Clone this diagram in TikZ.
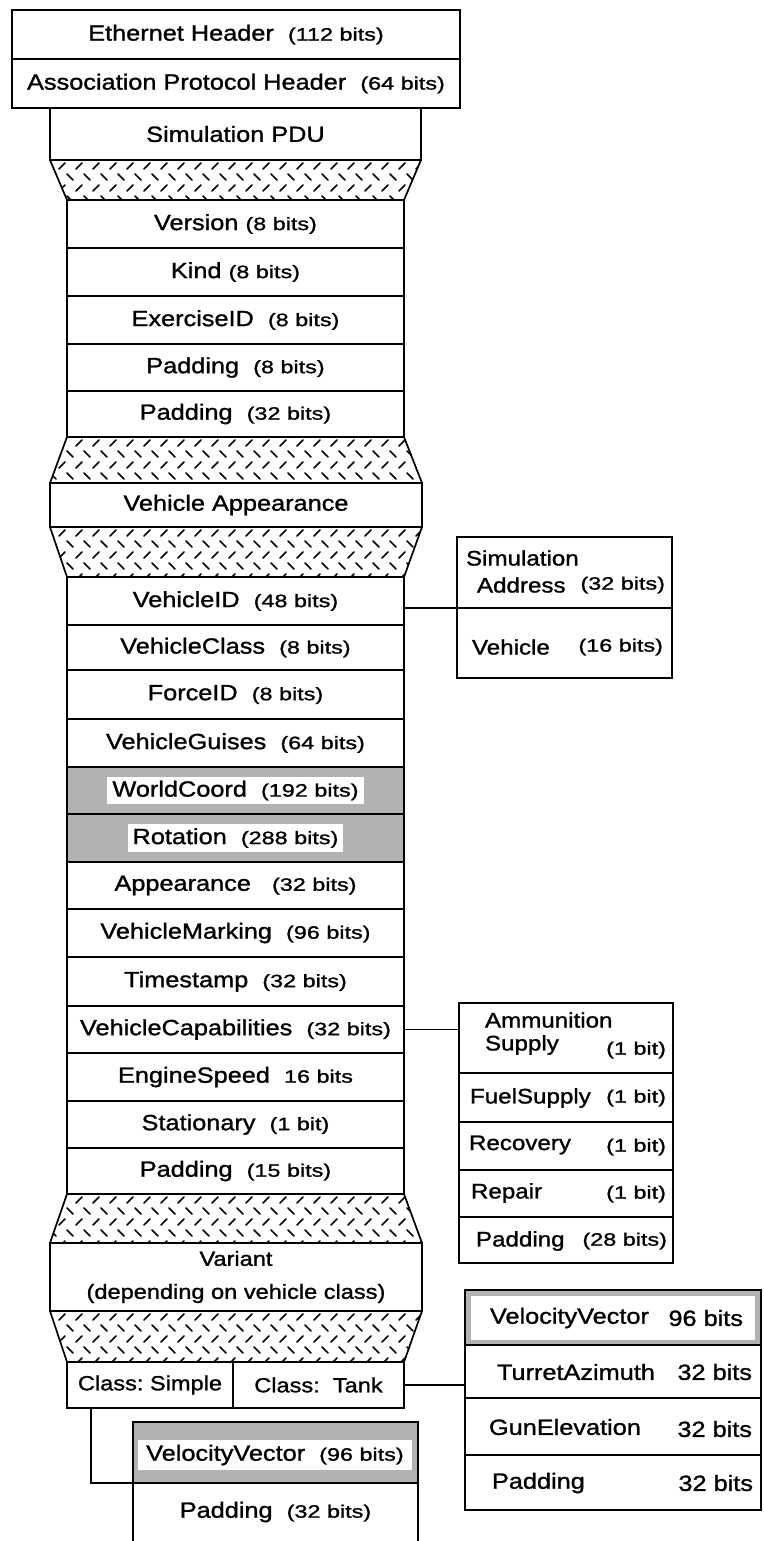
\documentclass[tikz,border=0pt]{standalone}
\usepackage{fontspec}
\setmainfont{Liberation Sans}
\newfontfamily\fA{Liberation Sans}[FakeStretch=1.15,FakeBold=1.2]
\newfontfamily\fB{Liberation Sans}[FakeStretch=1.3,FakeBold=1.2]
\newcommand\bitsz[1]{{\fB\fontsize{18}{20}\selectfont #1}}
\newcommand\cbox[6][]{\node[bx,#1,minimum width={(#4-#2)*1pt},minimum height={(#5-#3)*1pt}] (#6) at ({(#2+#4)/2},{(#3+#5)/2})}
\newcommand\hatchtrap[6]{%
  \begin{scope}
    \clip (#3,#1) -- (#4,#1) -- (#6,#2) -- (#5,#2) -- cycle;
    \foreach \r in {0,2,4}{\foreach \c in {0,...,23}{\draw[hatch] ({42+17*\c},{#1+9+11*\r}) -- ++(6,-6);}}
    \foreach \r in {1,3,5}{\foreach \c in {0,...,23}{\draw[hatch] ({50+17*\c},{#1+3+11*\r}) -- ++(6,6);}}
  \end{scope}
  \draw (#3,#1) -- (#5,#2) (#4,#1) -- (#6,#2);
}
\tikzset{
  bx/.style={draw, rectangle, inner sep=0pt, outer sep=0pt, align=center, font=\fA\fontsize{22}{24}\selectfont},
  lbl/.style={inner sep=0pt, outer sep=0pt, font=\fA\fontsize{21}{22}\selectfont},
  tlbl/.style={inner sep=0pt, outer sep=0pt, font=\fA\fontsize{22}{24}\selectfont},
  shaded/.style={fill=black!30},
  wt/.style={fill=white, draw=none, inner xsep=5pt, inner ysep=4pt, font=\fA\fontsize{22}{24}\selectfont},
  hatch/.style={line width=1.7pt, line cap=round},
}
\begin{document}
\begin{tikzpicture}[x=1pt, y=-1pt, line width=1.7pt]
\useasboundingbox[fill=white] (0,0) rectangle (763,1541);

% top headers
\cbox{12}{10}{460}{59}{eth}{Ethernet Header \ \bitsz{(112 bits)}};
\cbox{12}{59}{460}{108}{apl}{Association Protocol Header \ \bitsz{(64 bits)}};
\cbox{50}{108}{421}{160}{pdu}{Simulation PDU};
\hatchtrap{160}{200}{50}{421}{67}{404}

% simulation PDU header fields
\cbox{67}{200}{404}{248}{version}{Version \bitsz{(8 bits)}};
\cbox{67}{248}{404}{296}{kind}{Kind \bitsz{(8 bits)}};
\cbox{67}{296}{404}{344}{exer}{ExerciseID\ \ \bitsz{(8 bits)}};
\cbox{67}{344}{404}{391}{pad1}{Padding\ \ \bitsz{(8 bits)}};
\cbox{67}{391}{404}{437}{pad2}{Padding\ \ \bitsz{(32 bits)}};
\hatchtrap{437}{483}{67}{404}{50}{422}

\cbox{50}{483}{422}{527}{va}{Vehicle Appearance};
\hatchtrap{527}{577}{50}{422}{67}{404}

% vehicle appearance fields
\cbox{67}{577}{404}{625}{vid}{VehicleID\ \ \bitsz{(48 bits)}};
\cbox{67}{625}{404}{670}{vcl}{VehicleClass\ \ \bitsz{(8 bits)}};
\cbox{67}{670}{404}{719}{fid}{ForceID\ \ \bitsz{(8 bits)}};
\cbox{67}{719}{404}{767}{vg}{VehicleGuises\ \ \bitsz{(64 bits)}};
\cbox[shaded]{67}{767}{404}{814}{wc}{};
\node[wt] (wct) at (wc) {WorldCoord\ \ \bitsz{(192 bits)}};
\cbox[shaded]{67}{814}{404}{862}{rot}{};
\node[wt] (rott) at (rot) {Rotation\ \ \bitsz{(288 bits)}};
\cbox{67}{862}{404}{909}{app}{Appearance\ \ \ \bitsz{(32 bits)}};
\cbox{67}{909}{404}{957}{vm}{VehicleMarking\ \ \bitsz{(96 bits)}};
\cbox{67}{957}{404}{1006}{ts}{Timestamp\ \ \bitsz{(32 bits)}};
\cbox{67}{1006}{404}{1053}{vcap}{VehicleCapabilities\ \ \bitsz{(32 bits)}};
\cbox{67}{1053}{404}{1101}{es}{EngineSpeed\ \ \bitsz{16 bits}};
\cbox{67}{1101}{404}{1148}{st}{Stationary\ \ \bitsz{(1 bit)}};
\cbox{67}{1148}{404}{1194}{pad3}{Padding\ \ \bitsz{(15 bits)}};
\hatchtrap{1194}{1243}{67}{404}{50}{422}

\cbox[font=\fA\fontsize{20.5}{33}\selectfont]{50}{1243}{422}{1311}{var}{Variant\\(depending on vehicle class)};
\hatchtrap{1311}{1362}{50}{422}{67}{404}

\cbox[font=\fA\fontsize{20.5}{22}\selectfont]{67}{1362}{233}{1408}{cs}{Class:\ Simple};
\cbox[font=\fA\fontsize{20.5}{22}\selectfont]{233}{1362}{404}{1408}{ct}{Class:\ \ Tank};

% simple variant
\cbox[shaded]{133}{1422}{418}{1483}{sv}{};
\node[wt, minimum width=274pt, minimum height=30pt, inner sep=0pt] (svt) at (275,1455) {VelocityVector\ \ \bitsz{(96 bits)}};
\cbox[draw=none]{133}{1483}{418}{1541}{sp}{Padding\ \ \bitsz{(32 bits)}};
\draw (sp.north west) -- (sp.south west) (sp.north east) -- (sp.south east);

% simulation address box
\cbox{457}{537}{672}{608}{sa1}{};
\cbox{457}{608}{672}{678}{sa2}{};
\node[lbl, anchor=west] (sa1a) at (466,558) {Simulation};
\node[lbl, anchor=west] (sa1b) at (477,585) {Address};
\node[lbl, anchor=east] (sa1c) at (665,585) {\bitsz{(32 bits)}};
\node[lbl, anchor=west] (sa2a) at (472,647) {Vehicle};
\node[lbl, anchor=east] (sa2b) at (663,647) {\bitsz{(16 bits)}};

% capabilities box
\cbox{459}{1003}{673}{1073}{amm1}{};
\cbox{459}{1073}{673}{1122}{fuel}{};
\cbox{459}{1122}{673}{1170}{rec}{};
\cbox{459}{1170}{673}{1217}{rep}{};
\cbox{459}{1217}{673}{1263}{apad}{};
\node[lbl, anchor=west] (amma) at (485,1020) {Ammunition};
\node[lbl, anchor=west] (ammb) at (485,1045) {Supply};
\node[lbl, anchor=east] (ammc) at (666,1050) {\bitsz{(1 bit)}};
\node[lbl, anchor=west] (fuela) at (470,1098) {FuelSupply};
\node[lbl, anchor=east] (fuelb) at (666,1098) {\bitsz{(1 bit)}};
\node[lbl, anchor=west] (reca) at (469,1145) {Recovery};
\node[lbl, anchor=east] (recb) at (666,1147) {\bitsz{(1 bit)}};
\node[lbl, anchor=west] (repa) at (471,1193) {Repair};
\node[lbl, anchor=east] (repb) at (666,1194) {\bitsz{(1 bit)}};
\node[lbl, anchor=west] (apada) at (476,1241) {Padding};
\node[lbl, anchor=east] (apadb) at (667,1241) {\bitsz{(28 bits)}};

% tank variant box
\cbox[shaded]{465}{1290}{761}{1345}{tk1}{};
\node[wt, minimum width=284pt, minimum height=44pt, inner sep=0pt] (tk1w) at (tk1) {};
\cbox{465}{1345}{761}{1398}{tk2}{};
\cbox{465}{1398}{761}{1455}{tk3}{};
\cbox{465}{1455}{761}{1510}{tk4}{};
\node[tlbl, anchor=west] (tk1a) at (490,1318) {VelocityVector};
\node[tlbl, anchor=east] (tk1b) at (743,1318) {96 bits};
\node[tlbl, anchor=west] (tk2a) at (497,1372) {TurretAzimuth};
\node[tlbl, anchor=east] (tk2b) at (752,1372) {32 bits};
\node[tlbl, anchor=west] (tk3a) at (489,1427) {GunElevation};
\node[tlbl, anchor=east] (tk3b) at (752,1429) {32 bits};
\node[tlbl, anchor=west] (tk4a) at (492,1483) {Padding};
\node[tlbl, anchor=east] (tk4b) at (753,1483) {32 bits};

% connectors
\draw (sa1.south west) -- (sa1.south west -| vid.east);
\draw (vcap.east) -- (vcap.east -| amm1.west);
\draw (ct.east) -- (ct.east -| tk2.west);
\draw ([xshift=24pt]cs.south west) |- (sv.south west);
\end{tikzpicture}
\end{document}
